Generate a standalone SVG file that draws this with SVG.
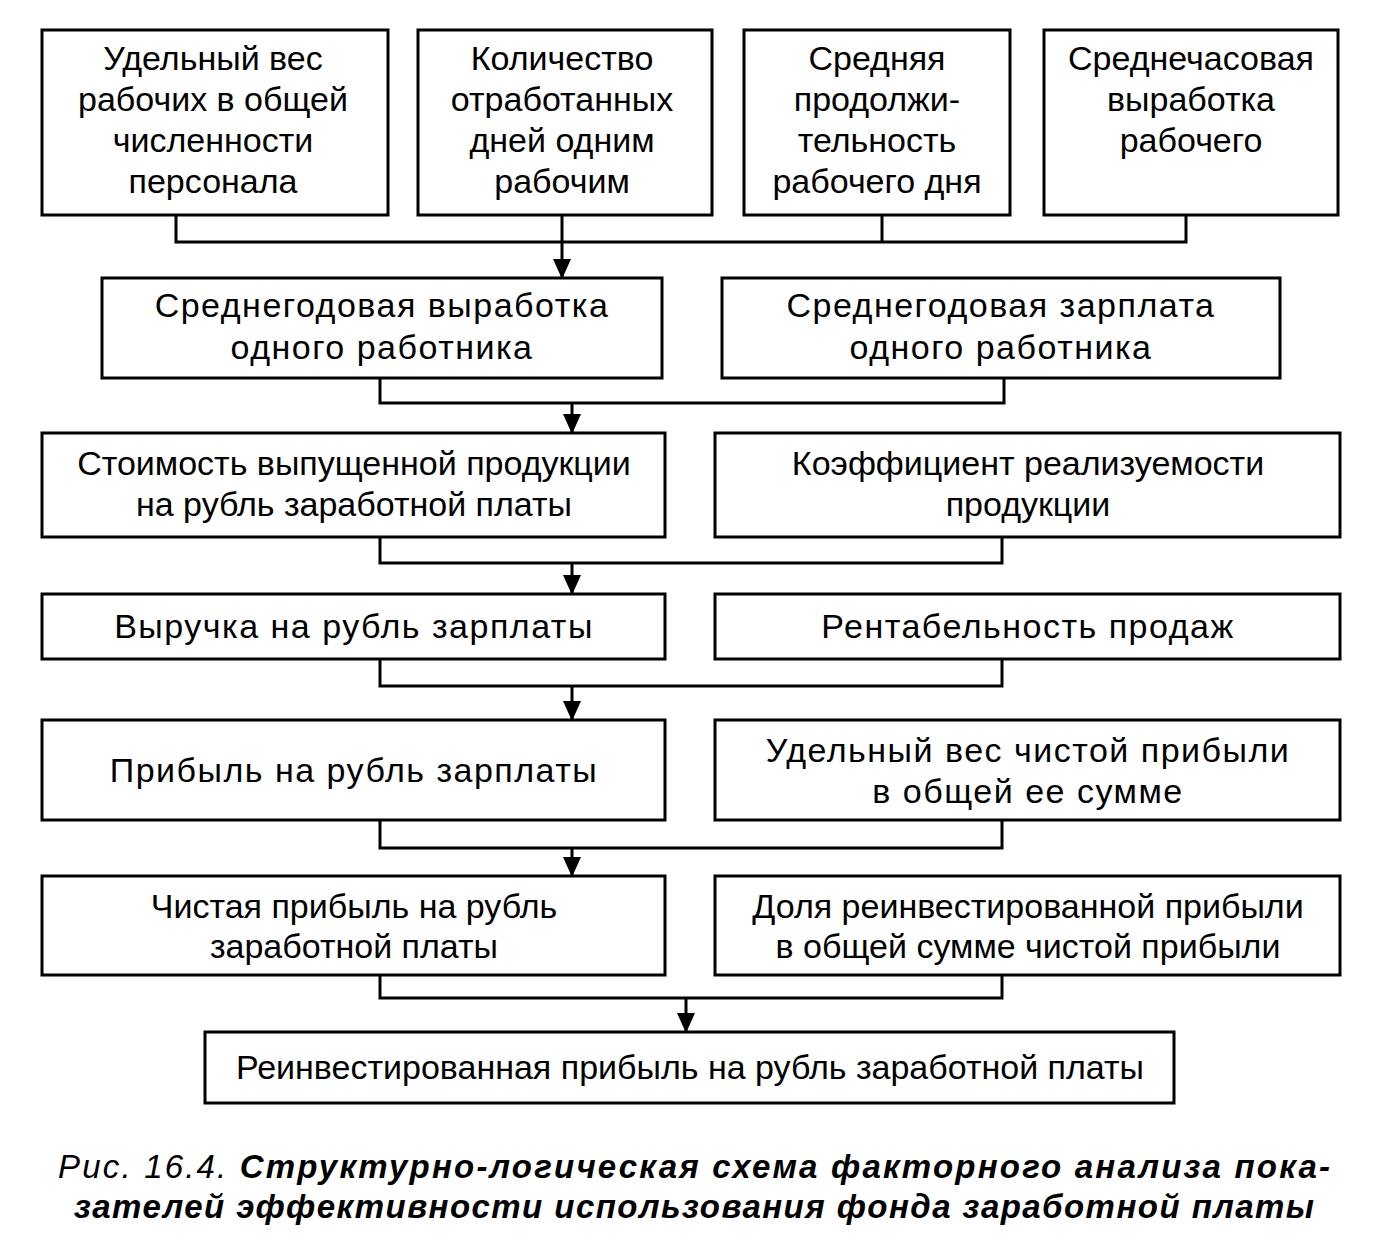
<svg xmlns="http://www.w3.org/2000/svg" width="1396" height="1244" viewBox="0 0 1396 1244">
<defs>
<style>
rect{fill:#fff;stroke:#000;stroke-width:3}
.c path{fill:none;stroke:#000;stroke-width:3}
text{font-family:"Liberation Sans",Arial,sans-serif;font-size:34px;text-anchor:middle;fill:#000}
.cap{font-style:italic;font-weight:bold;font-size:33px;text-anchor:start}
</style>
<marker id="a" viewBox="0 0 10 10" refX="9" refY="5" markerWidth="20" markerHeight="20" markerUnits="userSpaceOnUse" orient="auto"><path d="M0,0.5L10,5L0,9.5z" fill="#000"/></marker>
</defs>
<rect width="1396" height="1244" style="fill:#fff;stroke:none"/>
<g class="c">
<path d="M176,215V242H1186V215M562,215V242M882,215V242"/>
<path d="M562,242V277" marker-end="url(#a)"/>
<path d="M380,378V403H1004V378"/>
<path d="M572,403V432" marker-end="url(#a)"/>
<path d="M380,537V563H1002V537"/>
<path d="M572,563V593" marker-end="url(#a)"/>
<path d="M380,659V686H1002V659"/>
<path d="M572,686V719" marker-end="url(#a)"/>
<path d="M380,820V848H1002V820"/>
<path d="M572,848V875" marker-end="url(#a)"/>
<path d="M380,975V998H1002V975"/>
<path d="M686,998V1031" marker-end="url(#a)"/>
</g>
<g id="n1"><rect x="42" y="30" width="346" height="185"/><text x="213" y="70">Удельный вес</text><text x="213" y="111">рабочих в общей</text><text x="213" y="152">численности</text><text x="213" y="193">персонала</text></g>
<g id="n2"><rect x="418" y="30" width="294" height="185"/><text x="562" y="70">Количество</text><text x="562" y="111">отработанных</text><text x="562" y="152">дней одним</text><text x="562" y="193">рабочим</text></g>
<g id="n3"><rect x="744" y="30" width="266" height="185"/><text x="877" y="70">Средняя</text><text x="877" y="111">продолжи-</text><text x="877" y="152">тельность</text><text x="877" y="193">рабочего дня</text></g>
<g id="n4"><rect x="1044" y="30" width="294" height="185"/><text x="1191" y="70">Среднечасовая</text><text x="1191" y="111">выработка</text><text x="1191" y="152">рабочего</text></g>
<g id="n5"><rect x="102" y="278" width="560" height="100"/><text x="382" y="317" letter-spacing="1.5">Среднегодовая выработка</text><text x="382" y="359" letter-spacing="1.5">одного работника</text></g>
<g id="n6"><rect x="722" y="278" width="558" height="100"/><text x="1001" y="317" letter-spacing="1.5">Среднегодовая зарплата</text><text x="1001" y="359" letter-spacing="1.5">одного работника</text></g>
<g id="n7"><rect x="42" y="433" width="623" height="104"/><text x="354" y="475">Стоимость выпущенной продукции</text><text x="354" y="516">на рубль заработной платы</text></g>
<g id="n8"><rect x="715" y="433" width="625" height="104"/><text x="1028" y="475">Коэффициент реализуемости</text><text x="1028" y="516">продукции</text></g>
<g id="n9"><rect x="42" y="594" width="623" height="65"/><text x="354" y="638" letter-spacing="1.5">Выручка на рубль зарплаты</text></g>
<g id="n10"><rect x="715" y="594" width="625" height="65"/><text x="1028" y="638" letter-spacing="1.5">Рентабельность продаж</text></g>
<g id="n11"><rect x="42" y="720" width="623" height="100"/><text x="354" y="782" letter-spacing="1.5">Прибыль на рубль зарплаты</text></g>
<g id="n12"><rect x="715" y="720" width="625" height="100"/><text x="1028" y="762" letter-spacing="1.5">Удельный вес чистой прибыли</text><text x="1028" y="803" letter-spacing="1.5">в общей ее сумме</text></g>
<g id="n13"><rect x="42" y="876" width="623" height="99"/><text x="354" y="918">Чистая прибыль на рубль</text><text x="354" y="958">заработной платы</text></g>
<g id="n14"><rect x="715" y="876" width="625" height="99"/><text x="1028" y="918">Доля реинвестированной прибыли</text><text x="1028" y="958">в общей сумме чистой прибыли</text></g>
<g id="n15"><rect x="205" y="1032" width="969" height="71"/><text x="690" y="1079">Реинвестированная прибыль на рубль заработной платы</text></g>
<text class="cap" x="58" y="1178" textLength="1272" lengthAdjust="spacing"><tspan style="font-weight:normal">Рис. 16.4.</tspan> Структурно-логическая схема факторного анализа пока-</text>
<text class="cap" x="74" y="1218" textLength="1240" lengthAdjust="spacing">зателей эффективности использования фонда заработной платы</text>
</svg>
